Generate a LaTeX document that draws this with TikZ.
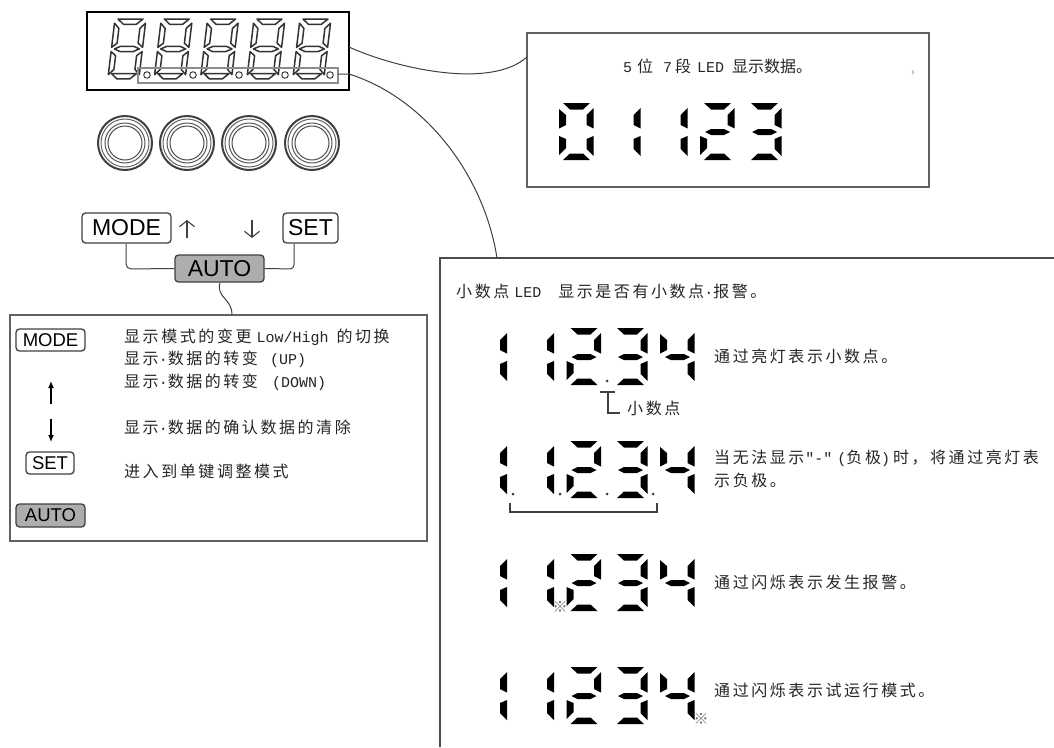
\documentclass[tikz,border=0pt]{standalone}
\usepackage{fontspec}
\setmainfont{Liberation Sans}
\newfontfamily\cjk[LetterSpace=16]{Noto Sans CJK SC}
\newfontfamily\cjktight{Noto Sans CJK SC}
\newfontfamily\lat{Liberation Mono}
\newcommand{\cn}[1]{{\cjk\fontsize{16}{18}\selectfont #1}}
\newcommand{\cnt}[1]{{\cjktight\fontsize{16}{18}\selectfont #1}}
\newcommand{\la}[1]{{\lat\fontsize{15}{18}\selectfont #1}}
\newcommand{\segT}{\path[ledseg] (4,0)--(31,0)--(24,6.5)--(11,6.5)--cycle;}
\newcommand{\segB}{\path[ledseg] (11,50.5)--(24,50.5)--(31,57)--(4,57)--cycle;}
\newcommand{\segM}{\path[ledseg] (5,29)--(11,26)--(24,26)--(30,29)--(24,32)--(11,32)--cycle;}
\newcommand{\segUL}{\path[ledseg] (0,6)--(7,12)--(7,22)--(0,25.5)--cycle;}
\newcommand{\segUR}{\path[ledseg] (34.5,5)--(27.5,12)--(27.5,22)--(34.5,25.5)--cycle;}
\newcommand{\segLL}{\path[ledseg] (0,33)--(7,36)--(7,45)--(0,52)--cycle;}
\newcommand{\segLR}{\path[ledseg] (34.5,33)--(27.5,36)--(27.5,46)--(34.5,53)--cycle;}
\newcommand{\ledglyph}[3]{\begin{scope}[shift={(#1,#2)}]#3\end{scope}}
\newcommand{\dZero}[2]{\ledglyph{#1}{#2}{\segT\segB\segUL\segUR\segLL\segLR}}
\newcommand{\dOne}[2]{\ledglyph{#1}{#2}{\segUR\segLR}}
\newcommand{\dTwo}[2]{\ledglyph{#1}{#2}{\segT\segUR\segM\segLL\segB}}
\newcommand{\dThree}[2]{\ledglyph{#1}{#2}{\segT\segUR\segM\segLR\segB}}
\newcommand{\dFour}[2]{\ledglyph{#1}{#2}{\segUL\segUR\segM\segLR}}
\newcommand{\rowdigits}[1]{\dOne{472.5}{#1}\dOne{519.5}{#1}\dTwo{566.5}{#1}\dThree{613}{#1}\dFour{660}{#1}}
% outlined, slanted digit of the front panel
\newcommand{\outdigit}[1]{\begin{scope}[shift={(#1,19)},xslant=0.12,yscale=1.05,ledseg/.style={draw=black!80,line width=1.5,fill=white,line join=round}]
\path[ledseg] (5,0)--(30,0)--(24,5)--(11,5)--cycle;
\path[ledseg] (5,52)--(30,52)--(24,57)--(11,57)--cycle;
\path[ledseg] (5,28.5)--(11,26)--(24,26)--(30,28.5)--(24,31)--(11,31)--cycle;
\path[ledseg] (2,4)--(7,9)--(7,23)--(2,27)--cycle;
\path[ledseg] (33,4)--(28,9)--(28,23)--(33,27)--cycle;
\path[ledseg] (2,31)--(7,35)--(7,48)--(2,53)--cycle;
\path[ledseg] (33,31)--(28,35)--(28,48)--(33,53)--cycle;
\end{scope}}
\usetikzlibrary{arrows.meta}
\tikzset{
 ledseg/.style={fill=black},
 panel/.style={draw=black!62,line width=1.3,fill=white},
 btn/.style={draw=black!75,line width=1.3,rounded corners=3.5pt,inner sep=0pt,fill=white,font=\fontsize{23}{23}\selectfont},
 btnsm/.style={btn,font=\fontsize{18.5}{19}\selectfont},
 graybtn/.style={fill=black!32},
 wire/.style={draw=black!75,line width=1},
 txt/.style={anchor=west,inner sep=0pt,text=black!85},
 dotled/.style={circle,fill=black!75,inner sep=0pt,minimum size=3pt},
 openarrow/.style={draw=black!75,line width=1.1,-{Straight Barb[length=6pt,width=15pt]}},
 solidarrow/.style={draw=black,line width=1.3,-{Latex[length=7pt,width=6pt]}},
 blink/.style={inner sep=0pt,text=black!60,font=\cjktight\fontsize{15}{15}\selectfont},
}
\begin{document}
\begin{tikzpicture}[x=1pt,y=-1pt]
\useasboundingbox (0,0) rectangle (1054,747);
\fill[white] (0,0) rectangle (1054,747);
% front panel display
\node[draw=black,line width=1.3,minimum width=262pt,minimum height=78pt,inner sep=0pt] (disp) at (218,51) {};
\outdigit{113}\outdigit{159.3}\outdigit{205.6}\outdigit{252}\outdigit{298}
\node[draw=black!45,line width=1.2,minimum width=200pt,minimum height=15pt,inner sep=0pt] (dots) at (238,75.5) {};
\foreach \dx/\nm in {147/a,193/b,239/c,285/d,330/e}
  \node[circle,draw=black!75,line width=1,fill=white,minimum size=6.5pt,inner sep=0pt] (dot\nm) at (\dx,75) {};
% knobs
\foreach \kx/\nm in {125/a,187/b,249/c,312/d}{
  \node[circle,draw=black!75,line width=2,minimum size=54pt,inner sep=0pt] (knob\nm) at (\kx,143) {};
  \node[circle,draw=black!60,line width=1,minimum size=48pt,inner sep=0pt] at (\kx,143) {};
  \node[circle,draw=black!65,line width=1,minimum size=40pt,inner sep=0pt] at (\kx,143) {};
  \node[circle,draw=black!70,line width=1,minimum size=34pt,inner sep=0pt] at (\kx,143) {};
}
% panels
\node[panel,minimum width=402pt,minimum height=154pt,inner sep=0pt] (toppanel) at (728,110) {};
\node[panel,minimum width=417pt,minimum height=226pt,inner sep=0pt] (leftpanel) at (218.5,428) {};
\coordinate (brTL) at (440,258);
\coordinate (brR) at (1054,258);
\coordinate (brB) at (440,747);
\coordinate (brIn) at (497,258);
\draw[draw=black!70,line width=1.3] (brB)--(brTL)--(brR);
% connectors from display
\coordinate (disp1) at (349,47);
\coordinate (dots1) at (338,74);
\coordinate (topin) at (527,57);
\draw[wire] (disp1) .. controls (395,68) and (490,90) .. (topin);
\draw[wire] (dots1) -- (349,74) .. controls (425,98) and (484,175) .. (brIn);
% top buttons
\node[btn,minimum width=89pt,minimum height=30pt] (mode) at (126.5,228) {MODE};
\node[btn,minimum width=55pt,minimum height=30pt] (set) at (310.5,228) {SET};
\node[btn,graybtn,minimum width=89pt,minimum height=27pt] (auto) at (219.5,268.5) {AUTO};
\draw[wire,rounded corners=5pt] (mode.south -| 126,243) -- (126,269) -- (auto.west);
\draw[wire,rounded corners=4pt] (set.south -| 294,243) -- (294,269) -- (auto.east);
\coordinate (upT) at (187,220);\coordinate (upB) at (187,238);
\coordinate (dnT) at (252,220);\coordinate (dnB) at (252,238);
\draw[openarrow] (upB)--(upT);
\draw[openarrow] (dnT)--(dnB);
\coordinate (lpIn) at (232,315);
\draw[wire] (auto.south -| 220,282) .. controls (216,298) and (232,298) .. (lpIn);
% left panel content
\node[btnsm,minimum width=69pt,minimum height=22pt] (mode2) at (50.5,340) {MODE};
\node[btnsm,minimum width=48pt,minimum height=22pt] (set2) at (50,463) {SET};
\node[btnsm,graybtn,minimum width=69pt,minimum height=23pt] (auto2) at (50.5,515.5) {AUTO};
\coordinate (up2T) at (51,381);\coordinate (up2B) at (51,404);
\coordinate (dn2T) at (51,419);\coordinate (dn2B) at (51,442);
\draw[solidarrow] (up2B)--(up2T);
\draw[solidarrow] (dn2T)--(dn2B);
\node[txt] (l1) at (124,337) {\cn{显示模式的变更}\hspace{5pt}\la{Low/High}\hspace{8pt}\cn{的切换}};
\node[txt] (l2) at (124,359) {\cn{显示}\la{·}\cn{数据的转变}\hspace{12pt}\la{(UP)}};
\node[txt] (l3) at (124,382) {\cn{显示}\la{·}\cn{数据的转变}\hspace{14pt}\la{(DOWN)}};
\node[txt] (l4) at (124,427) {\cn{显示}\la{·}\cn{数据的确认数据的清除}};
\node[txt] (l5) at (124,471) {\cn{进入到单键调整模式}};
% top panel content
\node[txt] (t1) at (623,66) {\la{5}\hspace{5pt}\cnt{位}\hspace{10pt}\la{7}\hspace{3pt}\cnt{段}\hspace{6pt}\la{LED}\hspace{8pt}\cnt{显示数据。}};
\node[inner sep=0pt,text=black!50,font=\fontsize{10}{10}\selectfont] (t2) at (913,73) {›};
\dZero{559}{103}\dOne{606}{103}\dOne{653}{103}\dTwo{700}{103}\dThree{747}{103}
% bottom panel content
\node[txt] (b0) at (456,291) {\cn{小数点}\hspace{5pt}\la{LED}\hspace{17pt}\cn{显示是否有小数点}\la{·}\cn{报警。}};
\rowdigits{328}
\node[dotled] (p1) at (607,381) {};
\coordinate (brkA) at (600,392);\coordinate (brkB) at (615,392);
\coordinate (brkC) at (608,392);\coordinate (brkD) at (608,413);\coordinate (brkE) at (620,413);
\draw[wire,line width=1.2] (brkA)--(brkB);
\draw[wire,line width=1.2] (brkC)--(brkD)--(brkE);
\node[txt] (b1a) at (627,408) {\cn{小数点}};
\node[txt] (b1) at (714,356) {\cn{通过亮灯表示小数点。}};
\rowdigits{441}
\foreach \px/\nm in {513/a,560/b,607/c,653/d}
  \node[dotled] (q\nm) at (\px,494) {};
\coordinate (brkF) at (510,503);\coordinate (brkG) at (510,512);\coordinate (brkH) at (657,512);\coordinate (brkI) at (657,503);
\draw[wire,line width=1.2] (brkF)--(brkG)--(brkH)--(brkI);
\node[txt] (b2) at (714,458) {\cn{当无法显示}\hspace{1pt}\la{"-"}\hspace{5pt}\la{(}\cn{负极}\la{)}\hspace{3pt}\cn{时，将通过亮灯表}};
\node[txt] (b2b) at (714,480) {\cn{示负极。}};
\rowdigits{554}
\node[blink] (s1) at (560,607) {※};
\node[txt] (b3) at (714,582) {\cn{通过闪烁表示发生报警。}};
\rowdigits{667}
\node[blink] (s2) at (701,719) {※};
\node[txt] (b4) at (714,690) {\cn{通过闪烁表示试运行模式。}};
\end{tikzpicture}
\end{document}
